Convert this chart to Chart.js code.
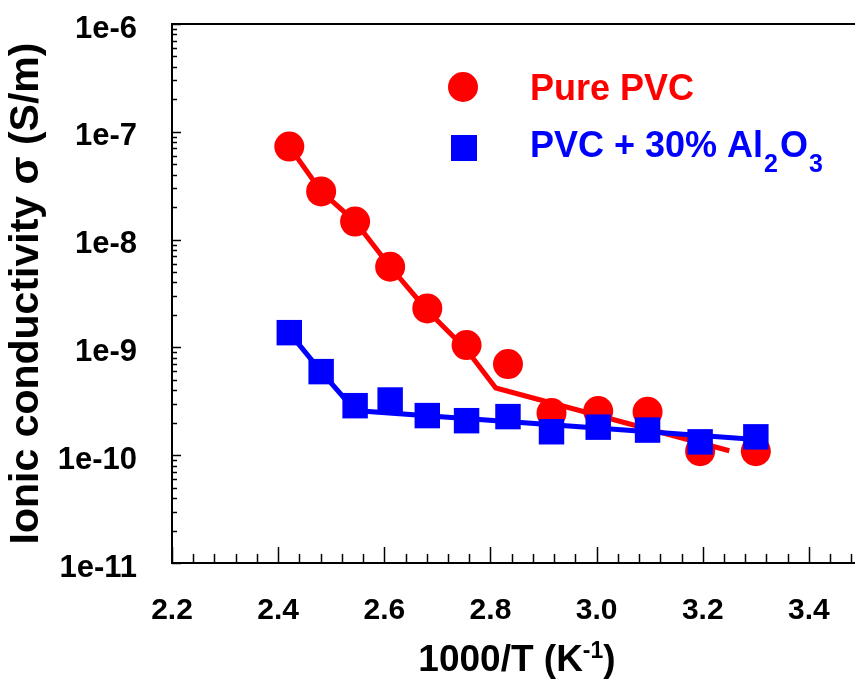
<!DOCTYPE html>
<html>
<head>
<meta charset="utf-8">
<script src="https://cdn.jsdelivr.net/npm/chart.js@4.4.0/dist/chart.umd.min.js"></script>
<style>
  html, body { margin: 0; padding: 0; background: #fff; overflow: hidden; }
  #wrap { width: 880px; height: 697px; }
</style>
</head>
<body>
<div id="wrap"><canvas id="chart" width="880" height="697"></canvas></div>
<script>
// 1000/T values (K^-1)
const invT = [2.421, 2.481, 2.545, 2.611, 2.681, 2.755, 2.833, 2.915, 3.003, 3.096, 3.195, 3.300];
// measured conductivity (S/m)
const purePVC = [7.3e-8, 2.8e-8, 1.47e-8, 5.6e-9, 2.3e-9, 1.05e-9, 7.0e-10, 2.46e-10, 2.57e-10, 2.53e-10, 1.09e-10, 1.09e-10];
const pvcAl2O3 = [1.37e-9, 5.96e-10, 2.88e-10, 3.25e-10, 2.33e-10, 2.09e-10, 2.28e-10, 1.65e-10, 1.82e-10, 1.71e-10, 1.33e-10, 1.48e-10];
// trend lines drawn through the data
const pureFitX = [2.421, 2.481, 2.545, 2.611, 2.681, 2.755, 2.81, 3.25];
const pureFitY = [7.3e-8, 2.8e-8, 1.47e-8, 5.6e-9, 2.2e-9, 9.5e-10, 4.2e-10, 1.1e-10];
const alFitX = [2.421, 2.481, 2.545, 3.300];
const alFitY = [1.37e-9, 5.96e-10, 2.6e-10, 1.40e-10];
// axes
const xMin = 2.2, xMax = 3.5, xMajor = 0.2, xMinor = 0.04;
const yDecades = [-11, -10, -9, -8, -7, -6];

const RED = '#ff0000';
const BLUE = '#0000ff';
const FONT = '"Liberation Sans", Arial, sans-serif';

const pts = (xs, ys) => xs.map((x, i) => ({ x: x, y: ys[i] }));

// inward tick marks, top frame line, legend and x title
const decor = {
  id: 'decor',
  afterDraw(chart) {
    const ctx = chart.ctx;
    const area = chart.chartArea;
    const xs = chart.scales.x, ys = chart.scales.y;
    ctx.save();
    ctx.strokeStyle = '#000';
    ctx.lineWidth = 2;
    ctx.beginPath();
    ctx.moveTo(area.left - 1, area.top);
    ctx.lineTo(area.right, area.top);
    ctx.stroke();

    ctx.lineWidth = 1.5;
    const nx = Math.round((xMax - xMin) / xMinor);
    for (let k = 0; k <= nx; k++) {
      const v = xMin + k * xMinor;
      const major = k % Math.round(xMajor / xMinor) === 0;
      const px = Math.round(xs.getPixelForValue(v)) + 0.5;
      ctx.beginPath();
      ctx.moveTo(px, area.bottom);
      ctx.lineTo(px, area.bottom - (major ? 16 : 9));
      ctx.stroke();
    }
    yDecades.forEach((e, i) => {
      for (let m = 1; m <= 9; m++) {
        if (i === yDecades.length - 1 && m > 1) break;
        const py = Math.round(ys.getPixelForValue(m * Math.pow(10, e))) + 0.5;
        ctx.beginPath();
        ctx.moveTo(area.left, py);
        ctx.lineTo(area.left + (m === 1 ? 9 : 5), py);
        ctx.stroke();
      }
    });

    // legend
    ctx.fillStyle = RED;
    ctx.beginPath();
    ctx.arc(463, 87, 15, 0, Math.PI * 2);
    ctx.fill();
    ctx.fillStyle = BLUE;
    ctx.fillRect(451, 135, 26, 26);

    ctx.textBaseline = 'alphabetic';
    ctx.textAlign = 'left';
    ctx.fillStyle = RED;
    ctx.font = 'bold 36px ' + FONT;
    ctx.fillText('Pure PVC', 530, 100);

    ctx.fillStyle = BLUE;
    let x = 530;
    const parts = [['PVC + 30% Al', 0], ['2', 1], ['O', 0], ['3', 1]];
    parts.forEach(([t, sub]) => {
      ctx.font = sub ? 'bold 25px ' + FONT : 'bold 36px ' + FONT;
      ctx.fillText(t, x, sub ? 172 : 157);
      x += ctx.measureText(t).width + (sub ? 2 : 1);
    });

    // x axis title with superscript
    ctx.fillStyle = '#000';
    const main1 = '1000/T (K', sup = '-1', main2 = ')';
    ctx.font = 'bold 37px ' + FONT;
    const w1 = ctx.measureText(main1).width, w3 = ctx.measureText(main2).width;
    ctx.font = 'bold 23px ' + FONT;
    const w2 = ctx.measureText(sup).width;
    const cx = (area.left + area.right) / 2;
    let tx = cx - (w1 + w2 + w3) / 2;
    ctx.font = 'bold 37px ' + FONT;
    ctx.fillText(main1, tx, 671);
    tx += w1;
    ctx.font = 'bold 23px ' + FONT;
    ctx.fillText(sup, tx, 658);
    tx += w2;
    ctx.font = 'bold 37px ' + FONT;
    ctx.fillText(main2, tx, 671);
    ctx.restore();
  }
};

new Chart(document.getElementById('chart'), {
  type: 'scatter',
  data: {
    datasets: [
      {
        label: 'PVC + 30% Al2O3',
        data: pts(invT, pvcAl2O3),
        pointStyle: 'rect',
        pointRadius: 18,
        backgroundColor: BLUE,
        borderWidth: 0,
        order: 0
      },
      {
        label: 'PVC + 30% Al2O3 fit',
        data: pts(alFitX, alFitY),
        showLine: true,
        pointRadius: 0,
        borderColor: BLUE,
        borderWidth: 5,
        order: 1
      },
      {
        label: 'Pure PVC',
        data: pts(invT, purePVC),
        pointStyle: 'circle',
        pointRadius: 15,
        backgroundColor: RED,
        borderWidth: 0,
        order: 2
      },
      {
        label: 'Pure PVC fit',
        data: pts(pureFitX, pureFitY),
        showLine: true,
        pointRadius: 0,
        borderColor: RED,
        borderWidth: 5,
        order: 3
      }
    ]
  },
  options: {
    responsive: false,
    animation: false,
    layout: { padding: { left: 0, top: 24, right: 16, bottom: 0 } },
    plugins: {
      legend: { display: false },
      tooltip: { enabled: false }
    },
    scales: {
      x: {
        type: 'linear',
        min: xMin,
        max: xMax,
        afterFit: s => { s.height = 134; s.paddingLeft = 0; s.paddingRight = 0; },
        grid: { display: true, drawOnChartArea: false, drawTicks: false },
        border: { display: true, color: '#000', width: 2 },
        ticks: {
          stepSize: xMajor,
          includeBounds: false,
          autoSkip: false,
          maxRotation: 0,
          padding: 30,
          color: '#000',
          font: { family: FONT, size: 30, weight: 'bold' },
          callback: v => {
            const k = (v - xMin) / xMajor;
            return Math.abs(k - Math.round(k)) < 1e-6 ? v.toFixed(1) : '';
          }
        }
      },
      y: {
        type: 'logarithmic',
        min: 1e-11,
        max: 1e-6,
        afterFit: s => { s.width = 172; s.paddingTop = 0; s.paddingBottom = 0; },
        grid: { display: true, drawOnChartArea: false, drawTicks: false },
        border: { display: true, color: '#000', width: 2 },
        title: {
          display: true,
          text: 'Ionic conductivity σ (S/m)',
          color: '#000',
          font: { family: FONT, size: 41, weight: 'bold' },
          padding: { top: 2, bottom: 0 }
        },
        ticks: {
          autoSkip: false,
          padding: 35,
          labelOffset: 5,
          color: '#000',
          font: { family: FONT, size: 31, weight: 'bold' },
          callback: v => {
            const e = Math.log10(v);
            return Math.abs(e - Math.round(e)) < 1e-6 ? '1e' + Math.round(e) : '';
          }
        }
      }
    }
  },
  plugins: [decor]
});
</script>
</body>
</html>
